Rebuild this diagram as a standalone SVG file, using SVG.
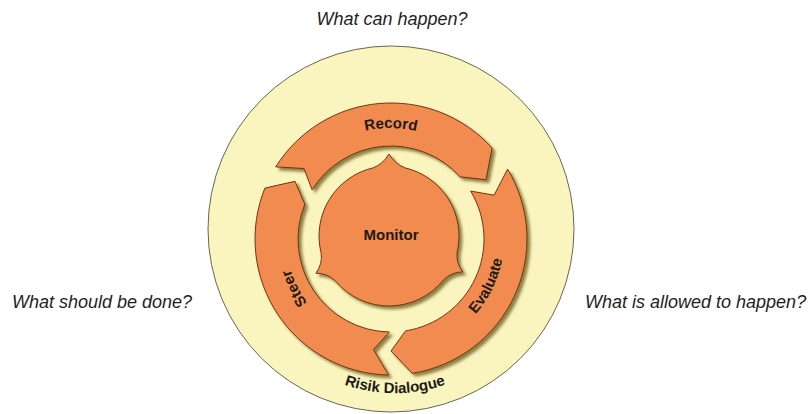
<svg xmlns="http://www.w3.org/2000/svg" width="809" height="414" viewBox="0 0 809 414">
  <style>
    .q { font-family: "Liberation Sans", Arial, sans-serif; font-size: 18px; font-style: italic; fill: #1e1e1e; }
    .lbl { font-family: "Liberation Sans", Arial, sans-serif; font-size: 15px; font-weight: bold; fill: #1e1a16; }
    .arrow { fill: #F28B50; stroke: #6e3512; stroke-width: 1; stroke-linejoin: round; filter: url(#shadow); }
    .outer { fill: #FAF5BF; stroke: #6a6650; stroke-width: 1; }
  </style>
  <defs>
    <filter id="shadow" x="-20%" y="-20%" width="140%" height="140%">
      <feDropShadow dx="3" dy="3" stdDeviation="1.8" flood-color="#6b5a1e" flood-opacity="0.75"/>
    </filter>
    <path id="p-record" d="M 286.7 201.0 A 111 111 0 0 1 495.3 201.0"/>
    <path id="p-steer" d="M 367.4 341.3 A 105 105 0 0 1 294.3 198.0"/>
    <path id="p-evaluate" d="M 418.3 348.6 A 113 113 0 0 0 494.2 193.0"/>
    <path id="p-risk" d="M 249.3 291.0 A 155 155 0 0 0 540.7 291.0"/>
  </defs>

  <rect x="0" y="0" width="809" height="414" fill="#ffffff"/>

  <g id="questions">
    <text class="q" x="392" y="25" text-anchor="middle">What can happen?</text>
    <text class="q" x="12" y="308">What should be done?</text>
    <text class="q" x="585" y="308">What is allowed to happen?</text>
  </g>

  <g id="node-risk-dialogue">
    <circle class="outer" cx="391" cy="229" r="183"/>
    <text class="lbl"><textPath href="#p-risk" startOffset="50%" text-anchor="middle">Risik Dialogue</textPath></text>
  </g>

  <g id="connectors"></g>

  <g id="node-record">
    <path class="arrow" d="M 275.7 166.9 A 136 136 0 0 1 492.1 148.0 L 486.0 179.7 L 460.1 176.8 A 93 93 0 0 0 312.1 189.7 L 304.0 168.5 Z"/>
    <text class="lbl"><textPath href="#p-record" startOffset="50%" text-anchor="middle">Record</textPath></text>
  </g>

  <g id="node-evaluate">
    <path class="arrow" d="M 507.6 169.0 A 136 136 0 0 1 412.3 373.3 L 391 351 L 405.5 330.9 A 93 93 0 0 0 470.7 191.1 L 494.1 195.2 Z"/>
    <text class="lbl"><textPath href="#p-evaluate" startOffset="50%" text-anchor="middle">Evaluate</textPath></text>
  </g>

  <g id="node-steer">
    <path class="arrow" d="M 388.6 375.0 A 136 136 0 0 1 264.9 188.1 L 295.0 181.3 L 304.8 204.2 A 93 93 0 0 0 389.4 332.0 L 373.5 349.6 Z"/>
    <text class="lbl"><textPath href="#p-steer" startOffset="50%" text-anchor="middle">Steer</textPath></text>
  </g>

  <g id="node-monitor">
    <path class="arrow" d="M 404.75 167.8 A 70 70 0 0 1 457.2 251.75 Q 455.8 263.0 462.7 271.9 Q 451.4 272 443.4 280.05 A 70 70 0 0 1 335.4 281.0 Q 327.3 273.1 315.9 273.2 Q 322.7 264.1 321.1 252.9 A 70 70 0 0 1 373.25 167.8 Q 382.7 164.3 389 154 Q 395.3 164.3 404.75 167.8 Z"/>
    <text class="lbl" x="391" y="240" text-anchor="middle">Monitor</text>
  </g>
</svg>
